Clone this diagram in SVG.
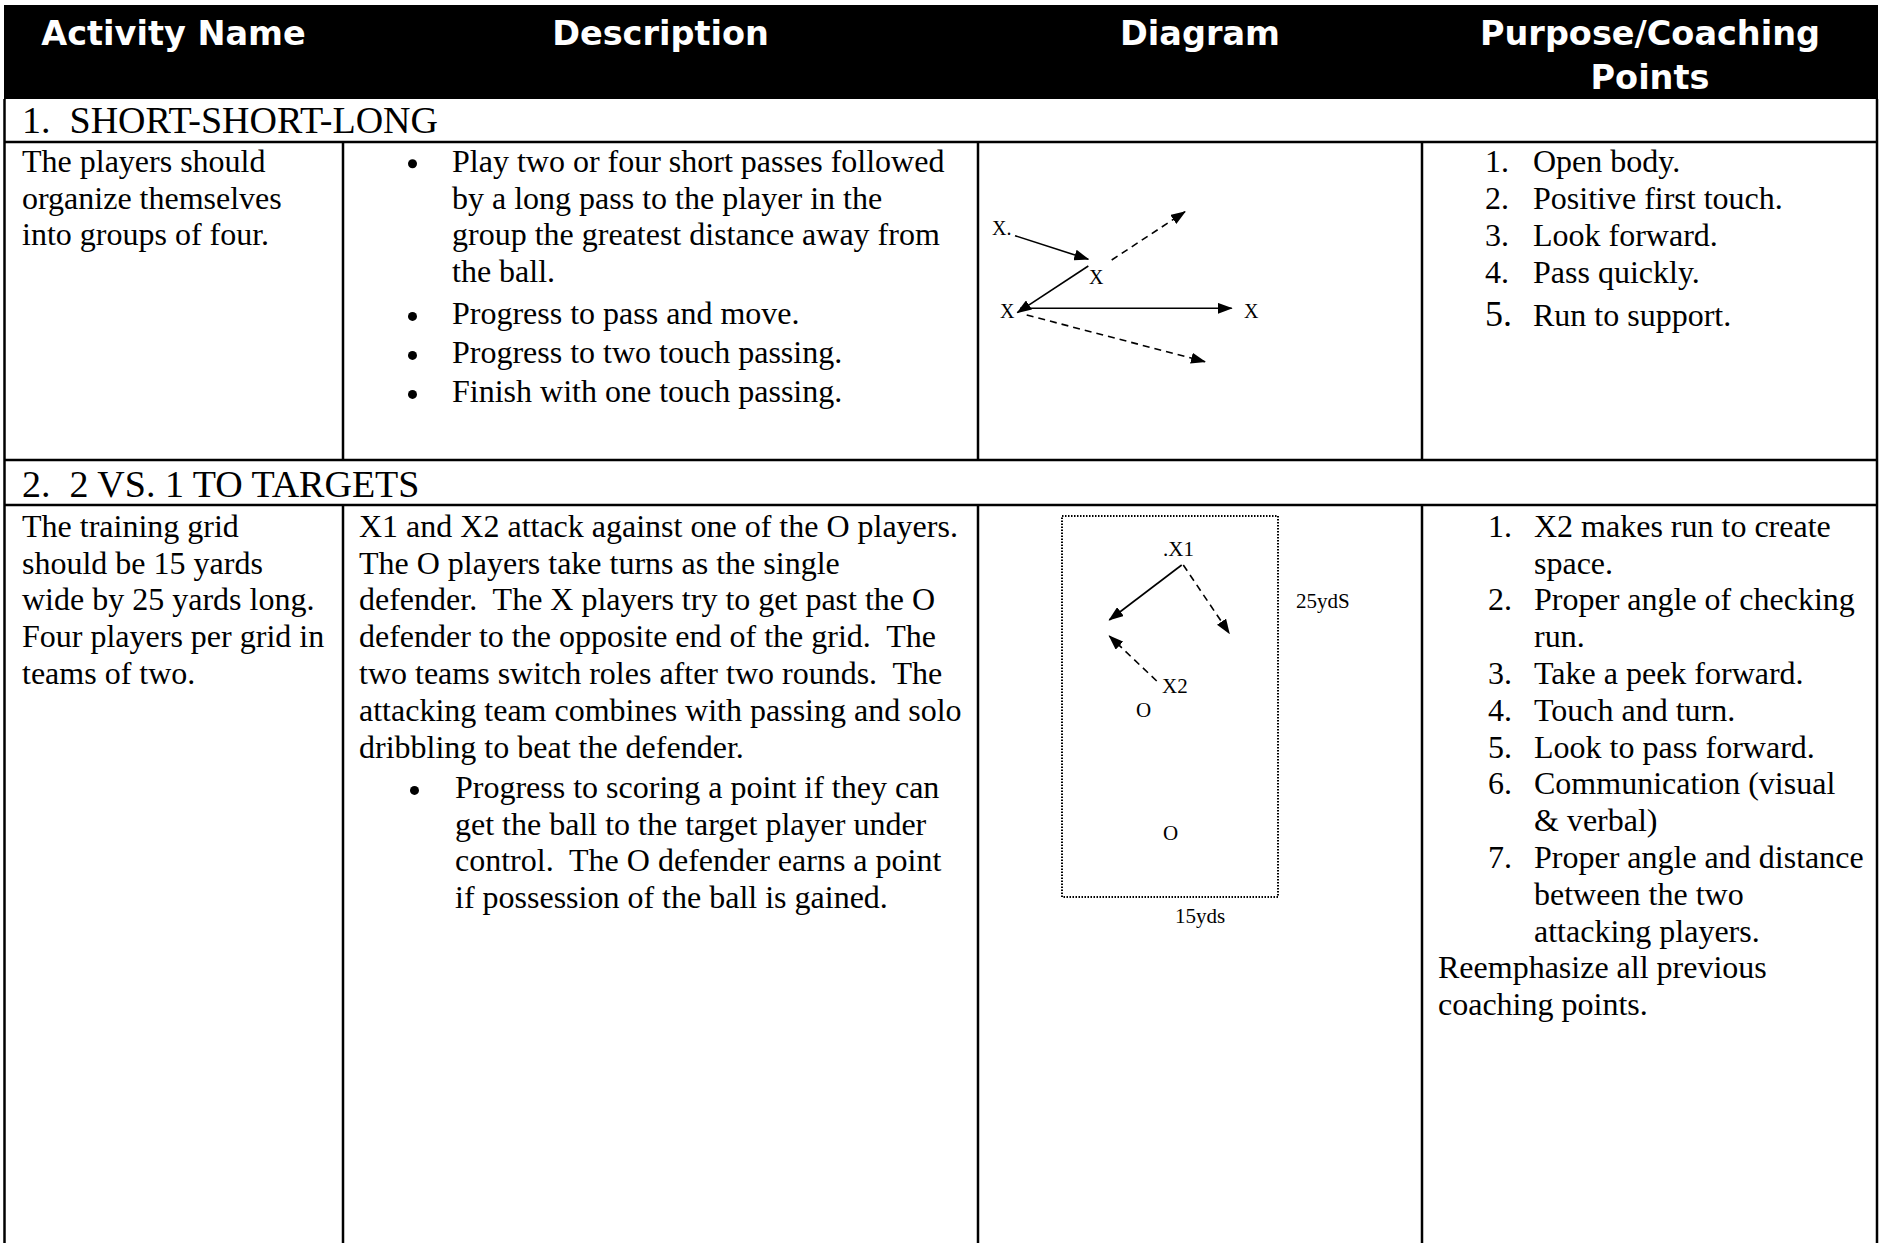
<svg xmlns="http://www.w3.org/2000/svg" width="1881" height="1243" viewBox="0 0 1881 1243">
<style>
text{white-space:pre}
.h{font-family:"DejaVu Sans",Verdana,sans-serif;font-weight:bold;font-size:33.5px;fill:#fff;text-anchor:middle}
.t{font-family:"Liberation Serif","Times New Roman",serif;font-size:38px;fill:#000}
.b{font-family:"Liberation Serif","Times New Roman",serif;font-size:32px;fill:#000}
.d{font-family:"Liberation Serif","Times New Roman",serif;font-size:20px;fill:#000}
.d2{font-family:"Liberation Serif","Times New Roman",serif;font-size:21px;fill:#000}
.grid{stroke:#000;fill:none}
.bul{fill:#000}
.sol{stroke:#000;stroke-width:1.6;fill:none;marker-end:url(#ah)}
.dsh{stroke:#000;stroke-width:1.6;fill:none;stroke-dasharray:7 5;marker-end:url(#ah)}
</style>
<defs>
<marker id="ah" markerUnits="userSpaceOnUse" markerWidth="15" markerHeight="11" refX="14" refY="5.5" orient="auto">
<path d="M0,0 L15,5.5 L0,11 z" fill="#000"/>
</marker>
</defs>
<rect width="1881" height="1243" fill="#fff"/>

<g id="table">
<rect x="4" y="5" width="1874" height="94" fill="#000"/>
<g class="grid" stroke-width="2.5">
<line x1="4.5" y1="99" x2="4.5" y2="1243"/>
<line x1="1877" y1="99" x2="1877" y2="1243"/>
<line x1="4" y1="142" x2="1878" y2="142"/>
<line x1="4" y1="460" x2="1878" y2="460"/>
<line x1="4" y1="505" x2="1878" y2="505"/>
<line x1="343" y1="142" x2="343" y2="460"/>
<line x1="978" y1="142" x2="978" y2="460"/>
<line x1="1422" y1="142" x2="1422" y2="460"/>
<line x1="343" y1="505" x2="343" y2="1243"/>
<line x1="978" y1="505" x2="978" y2="1243"/>
<line x1="1422" y1="505" x2="1422" y2="1243"/>
</g>
</g>

<g id="header">
<text class="h" x="173.5" y="45">Activity Name</text>
<text class="h" x="660.5" y="45">Description</text>
<text class="h" x="1200" y="45">Diagram</text>
<text class="h" x="1650" y="45">Purpose/Coaching</text>
<text class="h" x="1650" y="89">Points</text>
</g>

<g id="row1-title">
<text class="t" x="22" y="133">1.  SHORT-SHORT-LONG</text>
</g>

<g id="row1-name">
<text class="b" x="22" y="171.7">The players should</text>
<text class="b" x="22" y="208.5">organize themselves</text>
<text class="b" x="22" y="245.3">into groups of four.</text>
</g>

<g id="row1-description">
<circle class="bul" cx="412.5" cy="163.7" r="4.5"/>
<text class="b" x="452" y="171.7">Play two or four short passes followed</text>
<text class="b" x="452" y="208.5">by a long pass to the player in the</text>
<text class="b" x="452" y="245.3">group the greatest distance away from</text>
<text class="b" x="452" y="282.1">the ball.</text>
<circle class="bul" cx="412.5" cy="316.4" r="4.5"/>
<text class="b" x="452" y="324.4">Progress to pass and move.</text>
<circle class="bul" cx="412.5" cy="355.4" r="4.5"/>
<text class="b" x="452" y="363.4">Progress to two touch passing.</text>
<circle class="bul" cx="412.5" cy="394.4" r="4.5"/>
<text class="b" x="452" y="402.4">Finish with one touch passing.</text>
</g>

<g id="row1-diagram">
<text class="d" x="992" y="235">X.</text>
<text class="d" x="1089" y="284">X</text>
<text class="d" x="1000" y="318">X</text>
<text class="d" x="1244" y="318">X</text>
<g id="row1-connectors">
<line class="sol" x1="1015" y1="235.7" x2="1088.3" y2="259.3"/>
<line class="sol" x1="1088.3" y1="266" x2="1017.3" y2="312.7"/>
<line class="sol" x1="1020" y1="308.3" x2="1231.7" y2="308.3"/>
<line class="dsh" x1="1111.7" y1="260" x2="1185" y2="211.7"/>
<line class="dsh" x1="1026.7" y1="315" x2="1205" y2="361.7"/>
</g>
</g>

<g id="row1-points">
<text class="b" x="1485" y="171.7">1.</text><text class="b" x="1533" y="171.7">Open body.</text>
<text class="b" x="1485" y="208.9">2.</text><text class="b" x="1533" y="208.9">Positive first touch.</text>
<text class="b" x="1485" y="246">3.</text><text class="b" x="1533" y="246">Look forward.</text>
<text class="b" x="1485" y="283">4.</text><text class="b" x="1533" y="283">Pass quickly.</text>
<text class="b" x="1485" y="326.4" style="font-size:36px">5.</text><text class="b" x="1533" y="326.4">Run to support.</text>
</g>

<g id="row2-title">
<text class="t" x="22" y="497">2.  2 VS. 1 TO TARGETS</text>
</g>

<g id="row2-name">
<text class="b" x="22" y="536.7">The training grid</text>
<text class="b" x="22" y="573.5">should be 15 yards</text>
<text class="b" x="22" y="610.3">wide by 25 yards long.</text>
<text class="b" x="22" y="647.1">Four players per grid in</text>
<text class="b" x="22" y="683.9">teams of two.</text>
</g>

<g id="row2-description">
<text class="b" x="359" y="536.7">X1 and X2 attack against one of the O players.</text>
<text class="b" x="359" y="573.5">The O players take turns as the single</text>
<text class="b" x="359" y="610.3">defender.  The X players try to get past the O</text>
<text class="b" x="359" y="647.1">defender to the opposite end of the grid.  The</text>
<text class="b" x="359" y="683.9">two teams switch roles after two rounds.  The</text>
<text class="b" x="359" y="720.7">attacking team combines with passing and solo</text>
<text class="b" x="359" y="757.5">dribbling to beat the defender.</text>
<circle class="bul" cx="414.5" cy="790.4" r="4.5"/>
<text class="b" x="455" y="798.4">Progress to scoring a point if they can</text>
<text class="b" x="455" y="834.9">get the ball to the target player under</text>
<text class="b" x="455" y="871.4">control.  The O defender earns a point</text>
<text class="b" x="455" y="907.9">if possession of the ball is gained.</text>
</g>

<g id="row2-diagram">
<rect x="1062" y="516" width="216" height="381" fill="none" stroke="#000" stroke-width="2" stroke-dasharray="1.5 1.5"/>
<text class="d2" x="1163" y="556">.X1</text>
<text class="d2" x="1162" y="693">X2</text>
<text class="d2" x="1136" y="717">O</text>
<text class="d2" x="1163" y="840">O</text>
<text class="d2" x="1296" y="608">25ydS</text>
<text class="d2" x="1175" y="923">15yds</text>
<g id="row2-connectors">
<line class="sol" x1="1181.7" y1="565" x2="1109.3" y2="620"/>
<line class="dsh" x1="1183.3" y1="565" x2="1229.3" y2="633.3"/>
<line class="dsh" x1="1156.7" y1="681" x2="1109.3" y2="636"/>
</g>
</g>

<g id="row2-points">
<text class="b" x="1488" y="536.7">1.</text><text class="b" x="1534" y="536.7">X2 makes run to create</text>
<text class="b" x="1534" y="573.5">space.</text>
<text class="b" x="1488" y="610.3">2.</text><text class="b" x="1534" y="610.3">Proper angle of checking</text>
<text class="b" x="1534" y="647.1">run.</text>
<text class="b" x="1488" y="683.9">3.</text><text class="b" x="1534" y="683.9">Take a peek forward.</text>
<text class="b" x="1488" y="720.7">4.</text><text class="b" x="1534" y="720.7">Touch and turn.</text>
<text class="b" x="1488" y="757.5">5.</text><text class="b" x="1534" y="757.5">Look to pass forward.</text>
<text class="b" x="1488" y="794.3">6.</text><text class="b" x="1534" y="794.3">Communication (visual</text>
<text class="b" x="1534" y="831.1">&amp; verbal)</text>
<text class="b" x="1488" y="867.9">7.</text><text class="b" x="1534" y="867.9">Proper angle and distance</text>
<text class="b" x="1534" y="904.7">between the two</text>
<text class="b" x="1534" y="941.5">attacking players.</text>
<text class="b" x="1438" y="978.3">Reemphasize all previous</text>
<text class="b" x="1438" y="1015.1">coaching points.</text>
</g>
</svg>
